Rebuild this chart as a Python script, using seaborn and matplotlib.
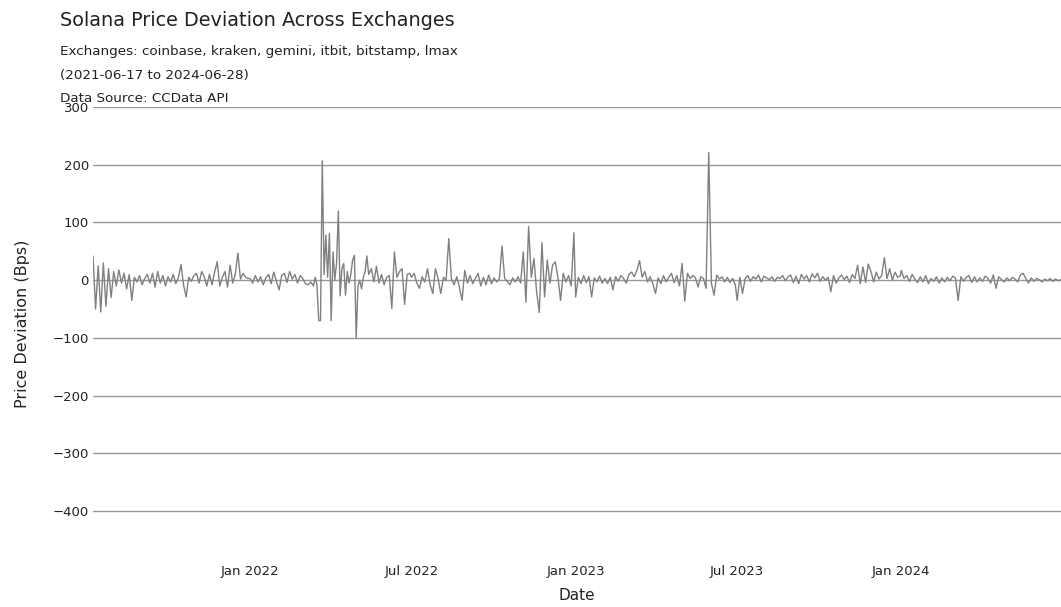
import pandas as pd
import matplotlib
matplotlib.use("Agg")
import matplotlib.pyplot as plt
import matplotlib.dates as mdates
import seaborn as sns

# price deviation (bps)
seg1_start, seg1_end = "2021-07-09", "2021-12-30"
seg1 = [42, -50, 25, -55, 30, -45, 20, -30,
        15, -10, 18, -5, 12, -15, 10, -35,
        5, -3, 8, -8, 3, 10, -5, 12,
        -12, 15, -5, 8, -10, 6, -3, 10,
        -6, 4, 27, -8, -29, 5, -2, 8,
        12, -5, 15, 6, -10, 10, -8, 14,
        32, -10, 5, 15, -12, 26, -5,
        10, 47, 2, 12, 5, 3]

seg2a_start, seg2a_end = "2022-01-01", "2022-03-13"
seg2a = [3, -5, 8, -3, 6, -8, 4, 10, -6, 14, -2, -17, 8, 12, -4, 15,
         2, 10, -5, 8, 3, -6, -8, -3, -10]

seg2b_start, seg2b_end = "2022-03-15", "2022-05-14"
seg2b = [5, -8, -70, -70, 207, 10, 78, 5, 81, -70, 49, 0, 30, 120, -27, 20,
         29, -26, 15, -5, 10, 35, 43, -101, -10, 0, -15, 5, 15, 42, 10]

seg2c_start, seg2c_end = "2022-05-17", "2022-06-29"
seg2c = [20, -3, 24, -5, 10, -8, 5, 8, -49, 49, 5, 15, 20, -42, 10, 12]

seg3_start, seg3_end = "2022-07-01", "2022-12-30"
seg3 = [5, 12, -5, -14, 6, -3, 20, -8, -23, 20, 2, -23, 5, 0, 72, 2,
        -8, 6, -12, -35, 17, -5, 8, -6, 3, 12, -10, 5, -8, 9, -6, 4,
        -3, 2, 59, 3, -2, -8, 4, -3, 6, -5, 49, -38, 93, 5, 38, -20,
        -56, 65, -29, 35, -5, 26, 32, 5, -35, 12, -3, 8, -10, 82]

seg4_start, seg4_end = "2023-01-01", "2023-06-29"
seg4 = [-29, 5, -6, 8, -4, 6, -29, 4, -3, 7, -5, 3, -6, 5, -17, 6,
        -2, 8, 3, -5, 10, 14, 6, 17, 34, 5, 15, -3, 6, -6, -23, 4,
        -6, 8, -3, 5, 12, -4, 8, -10, 29, -36, 12, 3, 8, 4, -12, 6,
        3, -14, 221, -5, -26, 9, 2, 6, -3, 5, -4, 3, -8]

seg5_start, seg5_end = "2023-07-01", "2023-12-31"
seg5 = [-35, 5, -23, 3, 8, -2, 6, 2, 9, -3, 7, 4, 1, 6, -2, 5,
        3, 8, -1, 6, 9, -4, 7, -6, 10, 2, 8, -3, 11, 4, 12, -2,
        6, 0, 5, -20, 8, -5, 4, 9, 1, 7, -4, 10, 3, 26, -6, 23,
        -4, 28, 15, -3, 14, 2, 8, 39, 3, 20, 0, 14, 5, 8]

seg6_start, seg6_end = "2024-01-01", "2024-06-28"
seg6 = [17, 3, 8, -2, 10, 2, -4, 6, -3, 8, -6, 3, -2, 6, -5, 4,
        -3, 5, -1, 7, 4, -35, 6, -2, 5, 8, -4, 6, -3, 4, -2, 7,
        3, -5, 9, -14, 6, 1, -3, 4, -1, 5, 2, -3, 9, 12, 3, -5,
        4, -2, 3, 1, -3, 2, -1, 3, -2, 2, -1, 1]

segments = [(seg1_start, seg1_end, seg1), (seg2a_start, seg2a_end, seg2a),
            (seg2b_start, seg2b_end, seg2b), (seg2c_start, seg2c_end, seg2c),
            (seg3_start, seg3_end, seg3), (seg4_start, seg4_end, seg4),
            (seg5_start, seg5_end, seg5), (seg6_start, seg6_end, seg6)]

frames = []
for start, end, vals in segments:
    dates = pd.date_range(start, end, periods=len(vals))
    frames.append(pd.DataFrame({"Date": dates, "Deviation": vals}))
df = pd.concat(frames, ignore_index=True)

title = "Solana Price Deviation Across Exchanges"
subtitle_lines = ["Exchanges: coinbase, kraken, gemini, itbit, bitstamp, lmax",
                  "(2021-06-17 to 2024-06-28)",
                  "Data Source: CCData API"]

sns.set_theme(style="white")
plt.rcParams["font.family"] = ["DejaVu Sans"]

fig = plt.figure(figsize=(10.61, 6.07), dpi=100)
# plot area: 300 at y=107 px, -450 at y=540 px
ax = fig.add_axes([93 / 1061, 1 - 540 / 607, 1 - 93 / 1061, (540 - 107) / 607])

sns.lineplot(data=df, x="Date", y="Deviation", ax=ax, color="#808080",
             linewidth=1.0, estimator=None)

ax.set_xlim(pd.Timestamp("2021-07-09"), pd.Timestamp("2024-06-28"))
ax.set_ylim(-450, 300)
ax.set_yticks([300, 200, 100, 0, -100, -200, -300, -400])
ax.set_xticks(pd.to_datetime(["2022-01-01", "2022-07-01", "2023-01-01",
                              "2023-07-01", "2024-01-01"]))
ax.xaxis.set_major_formatter(mdates.DateFormatter("%b %Y"))

ax.yaxis.grid(True, color="#9a9a9a", linewidth=1)
ax.xaxis.grid(False)
ax.set_axisbelow(True)
for s in ax.spines.values():
    s.set_visible(False)
ax.tick_params(axis="both", length=0, labelsize=9.5, colors="#222222")
ax.tick_params(axis="y", pad=3)
ax.tick_params(axis="x", pad=18)

ax.set_xlabel("Date", fontsize=11, color="#222222", labelpad=7)
ax.set_ylabel("Price Deviation (Bps)", fontsize=11.5, color="#222222", labelpad=16)

fig.text(60 / 1061, 1 - 20 / 607, title, fontsize=13.9, color="#222222", va="center")
for yy, line in zip([52, 76, 98], subtitle_lines):
    fig.text(60 / 1061, 1 - yy / 607, line, fontsize=9.7, color="#222222", va="center")

fig.savefig("out.png", dpi=100)
